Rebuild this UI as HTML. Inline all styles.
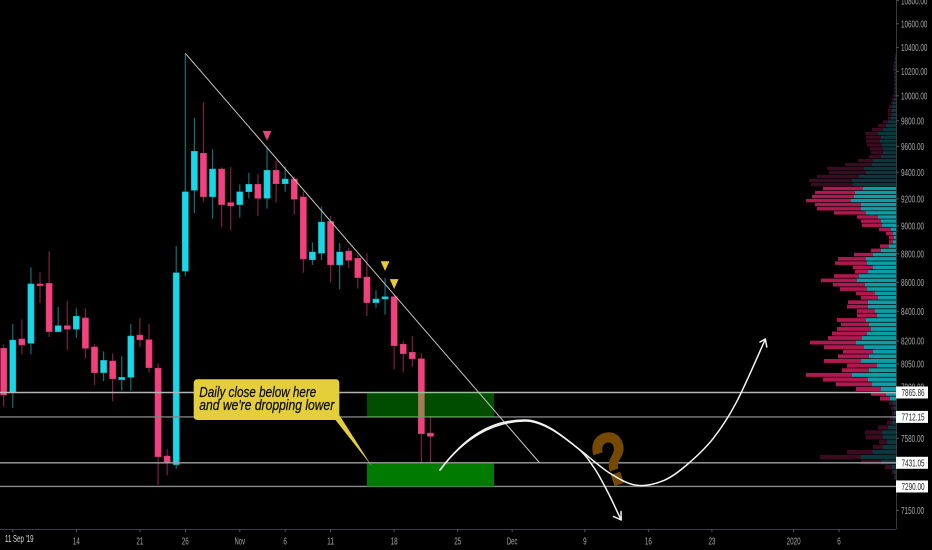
<!DOCTYPE html>
<html lang="en">
<head>
<meta charset="utf-8">
<title>BTC daily chart with volume profile</title>
<style>
html,body{margin:0;padding:0;background:#000;width:932px;height:550px;overflow:hidden}
svg{display:block}
text{font-family:"Liberation Sans",sans-serif}
</style>
</head>
<body>
<svg id="chart" xmlns="http://www.w3.org/2000/svg" width="932" height="550" viewBox="0 0 932 550">
  <rect x="0" y="0" width="932" height="550" fill="#000"/>
  <g id="candles"></g>
  <g id="profile"></g>
  <g id="levels"></g>
  <g id="zones"></g>
  <g id="trend"></g>
  <g id="markers"></g>
  <g>
    <path d="M198,379.3 H335.3 Q339.3,379.3 339.3,383.3 V415 L371.7,466 L335.5,420 H197.7 Q193.7,420 193.7,416 V383.3 Q193.7,379.3 198,379.3 Z" fill="#e4cf3a"/>
    <text x="199.3" y="397" font-size="14.5" font-style="italic" fill="#0c0c0c" stroke="#0c0c0c" stroke-width="0.25" textLength="117" lengthAdjust="spacingAndGlyphs">Daily close below here</text>
    <text x="199.3" y="409.8" font-size="14.5" font-style="italic" fill="#0c0c0c" stroke="#0c0c0c" stroke-width="0.25" textLength="135" lengthAdjust="spacingAndGlyphs">and we're dropping lower</text>
  </g>
  <text transform="translate(603,489) rotate(-19) scale(0.8,1)" font-size="74" font-weight="bold" fill="#754a00" stroke="#754a00" stroke-width="2">?</text>
  <g fill="none" stroke="#f4f4f0" stroke-width="1.5" stroke-linecap="round" stroke-linejoin="round">
    <path d="M440,470 C465,437 490,420 525,420 C545,420 566,439 580,450 C589.5,457.2 600.6,467.4 610,473.3 C619.4,479.2 627.8,484.1 636.7,485.3 C645.6,486.5 655,484.1 663.3,480.7 C671.6,477.3 678.4,472.1 686.7,465 C695,457.9 705,448.9 713.3,438.3 C721.6,427.7 728.1,418.1 736.7,401.7 C745.3,385.3 760.3,350.3 765,340"/>
    <path d="M760,342 L765.3,339 L766.8,347"/>
    <path d="M440,470 C463,439 492,421.5 525,421 C545,421 566,439 580,450 C586,456 588,459 593.3,466.7 C598,473 602,481 606.7,490 C612,500 616,509 620.7,519.3"/>
    <path d="M613.5,516.5 L621.2,520 L621,511.5"/>
  </g>
  <g id="yaxis"></g>
  <g id="xaxis"></g>
</svg>
<script>
// ---- candle data (USD) ----
const barDates = ["Oct 6","Oct 7","Oct 8","Oct 9","Oct 10","Oct 11","Oct 12","Oct 13","Oct 14","Oct 15","Oct 16","Oct 17","Oct 18","Oct 19","Oct 20","Oct 21","Oct 22","Oct 23","Oct 24","Oct 25","Oct 26","Oct 27","Oct 28","Oct 29","Oct 30","Oct 31","Nov 1","Nov 2","Nov 3","Nov 4","Nov 5","Nov 6","Nov 7","Nov 8","Nov 9","Nov 10","Nov 11","Nov 12","Nov 13","Nov 14","Nov 15","Nov 16","Nov 17","Nov 18","Nov 19","Nov 20","Nov 21","Nov 22"];
const opens = [8152,7864,8214,8185,8588,8592,8263,8303,8279,8355,8161,7993,8069,7948,7963,8240,8209,8023,7472,7420,8678,9264,9546,9216,9425,9172,9157,9253,9309,9204,9415,9313,9349,9214,8758,8804,9034,8721,8820,8768,8636,8459,8484,8500,8179,8126,8084,7612];
const highs = [8179,8314,8346,8704,8669,8818,8429,8472,8420,8420,8181,8132,8119,8100,8314,8355,8314,8054,7513,8856,10350,9822,9948,9577,9438,9440,9309,9397,9387,9597,9489,9443,9367,9254,8882,9142,9073,8877,8842,8792,8804,8546,8630,8512,8199,8234,8119,7712];
const lows = [7775,7767,8113,8113,8455,8227,8259,8139,8222,8086,7914,7939,7811,7877,7877,8159,7993,7299,7356,7394,8644,9095,9179,9054,8991,8969,9061,9204,9073,9127,9172,9254,9083,8666,8721,8754,8597,8551,8700,8555,8368,8424,8377,8015,7996,8032,7398,7408];
const closes = [7850,8207,8174,8588,8576,8263,8303,8279,8366,8152,7993,8073,7954,7963,8234,8209,8025,7468,7431,8666,9253,9561,9216,9425,9157,9147,9253,9309,9204,9415,9313,9349,9197,8763,8813,9029,8721,8813,8754,8632,8459,8484,8500,8169,8117,8084,7608,7592];

// ---- volume profile data, one row per price bin, top bin first ----
const vpTopPrice = 10332;
const vpBinStep = 30.2;
const vpUp = [0,1,1,1,1,1,1,1,1,1,1,1,
  2,3,4,4,4,5,8,10,13,18,15,16,14,13,13,15,23,24,32,30,37,44,43,
  33,41,42,45,35,35,30,18,15,14,5,3,2,3,7,15,23,30,29,23,
  28,37,39,31,29,21,18,28,28,21,19,30,27,25,29,34,40,32,23,27,35,19,27,44,28,24,15,10,6,
  3,2,2,3,4,8,14,13,9,13,23,35,15,4,2,1];
const vpDown = [1,0,1,2,2,1,1,1,1,1,1,2,
  2,2,3,4,4,3,5,8,11,13,15,14,15,13,12,12,15,27,37,37,42,43,42,
  40,40,42,45,46,44,32,21,20,20,12,7,5,4,9,10,19,28,32,20,
  13,25,36,32,27,19,17,20,21,18,20,29,28,34,35,34,46,40,30,31,37,30,27,46,45,36,25,15,10,
  4,3,2,3,5,10,17,17,8,10,26,41,20,7,2,1];
const vpRangeHigh = 9290;
const vpRangeLow = 7815;

// ---- drawing tool data ----
const levelPrices = [7865.86,7712.15,7431.05,7290.00];
const levelLabels = ["7865.86","7712.15","7431.05","7290.00"];
const levelColors = ["#b4b4b4","#808080","#a0a0a0","#8c8c8c"];
const trendBars = [20,59];
const trendPrices = [10350,7432];
const zoneBars = [40,54];
const markerBars = [29,42,43];
const markerPrices = [9643,8678,8553];
const markerColors = ["#ea4478","#e6cc2e","#e6cc2e"];

// ---- axis labels ----
const yTickPrices = [10800,10600,10400,10200,10000,9800,9600,9400,9200,9000,8800,8600,8400,8200,8050,7900,7720,7580,7150];
const yTickLabels = ["10800.00","10600.00","10400.00","10200.00","10000.00","9800.00","9600.00","9400.00","9200.00","9000.00","8800.00","8600.00","8400.00","8200.00","8050.00","7900.00","7720.00","7580.00","7150.00"];
const xTickBars = [1,8,15,20,26,31,36,43,50,56,64,71,78,87,92];
const xTickLabels = ["11 Sep '19","14","21","26","Nov","6","11","18","25","Dec","9","16","23","2020","6"];

// ---- axis functions ----
const NS = "http://www.w3.org/2000/svg";
const axisX = 896, axisY = 529;
function barX(i){ return 3.7 + 9.08*i; }
function priceY(p){ return 392.5 - 1236*Math.log(p/7865.86); }
function volW(v){ return v*1.0; }
function mk(parent,tag,attrs){
  const el = document.createElementNS(NS,tag);
  for(const k in attrs) el.setAttribute(k,attrs[k]);
  parent.appendChild(el);
  return el;
}

// candles
const candlesG = document.getElementById("candles");
barDates.forEach(function(d,i){
  const up = closes[i] >= opens[i];
  const x = barX(i);
  const wick = mk(candlesG,"line",{x1:x,x2:x,y1:priceY(highs[i]),y2:priceY(lows[i]),stroke:up?"#0e7078":"#7d1f46","stroke-width":1.2});
  
  
  const top = priceY(Math.max(opens[i],closes[i]));
  const bot = priceY(Math.min(opens[i],closes[i]));
  const body = mk(candlesG,"rect",{x:x-3.1,y:top,width:6.2,height:Math.max(bot-top,1.6),fill:up?"#18d8e8":"#f2417f",stroke:up?"#12aebb":"#c93a6c","stroke-width":0.5});
  
  
});

// volume profile
const profileG = document.getElementById("profile");
vpUp.forEach(function(u,i){
  const p = vpTopPrice - i*vpBinStep;
  const t = priceY(p + vpBinStep/2);
  const b = priceY(p - vpBinStep/2);
  const h = Math.max(b - t - 0.7, 1);
  const active = p <= vpRangeHigh && p >= vpRangeLow;
  const upW = volW(u), downW = volW(vpDown[i]);
  const downRect = mk(profileG,"rect",{x:axisX-upW-downW,y:t,width:downW,height:h,fill:active?"#b0184f":"#3c0b20"});
  
  
  const upRect = mk(profileG,"rect",{x:axisX-upW,y:t,width:upW,height:h,fill:active?"#0e9da6":"#0b383c"});
  
  
});

// horizontal levels
const levelsG = document.getElementById("levels");
levelPrices.forEach(function(p,i){
  const ln = mk(levelsG,"line",{x1:0,x2:axisX,y1:priceY(p),y2:priceY(p),stroke:levelColors[i],"stroke-width":1.4});
  
  
});

// zones between levels
const zonesG = document.getElementById("zones");
const zoneUpper = mk(zonesG,"rect",{x:barX(zoneBars[0]),width:barX(zoneBars[1])-barX(zoneBars[0]),y:priceY(levelPrices[0]),height:priceY(levelPrices[1])-priceY(levelPrices[0]),fill:"rgba(0,255,0,0.3)"});


const zoneLower = mk(zonesG,"rect",{x:barX(zoneBars[0]),width:barX(zoneBars[1])-barX(zoneBars[0]),y:priceY(levelPrices[2])+0.6,height:priceY(levelPrices[3])-priceY(levelPrices[2])-0.6,fill:"#007a00"});



// trendline
const trendG = document.getElementById("trend");
const trendLine = mk(trendG,"line",{x1:barX(trendBars[0]),y1:priceY(trendPrices[0]),x2:barX(trendBars[1]),y2:priceY(trendPrices[1]),stroke:"#c4c4c0","stroke-width":1});



// triangle markers
const markersG = document.getElementById("markers");
markerBars.forEach(function(b,i){
  const x = barX(b), y = priceY(markerPrices[i]);
  const tri = mk(markersG,"path",{d:"M"+(x-4.4)+","+(y-9.8)+" H"+(x+4.4)+" L"+x+","+y+" Z",fill:markerColors[i]});
  
  
});

// price axis
const yG = document.getElementById("yaxis");
const yLine = mk(yG,"line",{x1:axisX+0.5,x2:axisX+0.5,y1:0,y2:axisY,stroke:"#3a3a3a","stroke-width":1});


yTickPrices.forEach(function(p,i){
  const y = priceY(p);
  const tick = mk(yG,"line",{x1:axisX,x2:axisX+3,y1:y,y2:y,stroke:"#555","stroke-width":1});
  
  
  const t = mk(yG,"text",{x:901,y:y+3.6,"font-size":10.5,fill:"#a8a8a8",textLength:yTickLabels[i].length*3.3,lengthAdjust:"spacingAndGlyphs"});
  
  
  t.textContent = yTickLabels[i];
});
levelPrices.forEach(function(p,i){
  const y = priceY(p);
  const box = mk(yG,"rect",{x:axisX,y:y-6,width:32,height:12,fill:"#fff"});
  
  
  const t = mk(yG,"text",{x:901.5,y:y+3.6,"font-size":10.5,fill:"#222",textLength:levelLabels[i].length*3.3,lengthAdjust:"spacingAndGlyphs"});
  
  
  t.textContent = levelLabels[i];
});

// time axis
const xG = document.getElementById("xaxis");
const xLine = mk(xG,"line",{x1:0,x2:axisX,y1:axisY+0.5,y2:axisY+0.5,stroke:"#3c3c48","stroke-width":1});


xTickBars.forEach(function(b,i){
  const x = barX(b);
  const tick = mk(xG,"line",{x1:x,x2:x,y1:axisY,y2:axisY+3,stroke:"#555","stroke-width":1});
  
  
  const isFirst = i === 0;
  const t = mk(xG,"text",{x:isFirst?x+6.5:x,y:isFirst?542:544.5,"font-size":10.5,fill:isFirst?"#dcdcdc":"#a8a8a8","text-anchor":"middle",textLength:xTickLabels[i].length*(isFirst?2.85:3.5),lengthAdjust:"spacingAndGlyphs"});
  
  
  t.textContent = xTickLabels[i];
});
</script>
</body>
</html>
